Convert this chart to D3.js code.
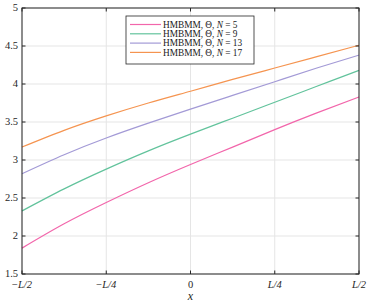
<!DOCTYPE html>
<html><head><meta charset="utf-8">
<script src="https://cdn.jsdelivr.net/npm/d3@7"></script>
<style>
body{margin:0;background:#fff;}
svg{display:block;font-family:"Liberation Serif","DejaVu Serif",serif;}
</style></head>
<body><svg id="c" width="374" height="304"></svg>
<script>
const xValues = [-0.5,-0.375,-0.25,-0.125,0,0.125,0.25,0.375,0.5];
const xTickValues = [-0.5,-0.25,0,0.25,0.5];
const xTickLabels = [["−",true,"L","/2"],["−",true,"L","/4"],["0"],["",true,"L","/4"],["",true,"L","/2"]];
const yTickValues = [1.5,2,2.5,3,3.5,4,4.5,5];
const seriesN = [5,9,13,17];
const n5  = [1.84,2.16,2.44,2.70,2.94,3.17,3.40,3.62,3.83];
const n9  = [2.33,2.62,2.88,3.12,3.34,3.55,3.76,3.97,4.18];
const n13 = [2.82,3.07,3.29,3.485,3.67,3.85,4.03,4.21,4.38];
const n17 = [3.17,3.39,3.58,3.75,3.905,4.06,4.21,4.36,4.51];
const seriesValues = [n5,n9,n13,n17];
const colors = ["#f266ab","#62c39c","#a39ad6","#f59450"];

const svg = d3.select("#c");
const L=22,R=359,T=8,B=274;
const x = d3.scaleLinear().domain([-0.5,0.5]).range([L,R]);
const y = d3.scaleLinear().domain([1.5,5]).range([B,T]);

// grid
const g = svg.append("g");
g.selectAll(".gx").data(xTickValues).enter().append("line")
 .attr("x1",d=>x(d)).attr("x2",d=>x(d)).attr("y1",T).attr("y2",B)
 .attr("stroke","#e5e5e5").attr("stroke-width",1);
g.selectAll(".gy").data(yTickValues).enter().append("line")
 .attr("x1",L).attr("x2",R).attr("y1",d=>y(d)).attr("y2",d=>y(d))
 .attr("stroke","#e5e5e5").attr("stroke-width",1);

// lines
const line = d3.line().x((d,i)=>x(xValues[i])).y(d=>y(d)).curve(d3.curveNatural);
seriesValues.forEach((s,k)=>{
  svg.append("path").attr("d",line(s)).attr("fill","none")
   .attr("stroke",colors[k]).attr("stroke-width",1.2);
});

// box and ticks
const axc="#262626";
svg.append("rect").attr("x",L).attr("y",T).attr("width",R-L).attr("height",B-T)
 .attr("fill","none").attr("stroke",axc).attr("stroke-width",1);
const tl=3.5;
xTickValues.forEach(v=>{
  svg.append("line").attr("x1",x(v)).attr("x2",x(v)).attr("y1",B).attr("y2",B-tl).attr("stroke",axc);
  svg.append("line").attr("x1",x(v)).attr("x2",x(v)).attr("y1",T).attr("y2",T+tl).attr("stroke",axc);
});
yTickValues.forEach(v=>{
  svg.append("line").attr("x1",L).attr("x2",L+tl).attr("y1",y(v)).attr("y2",y(v)).attr("stroke",axc);
  svg.append("line").attr("x1",R).attr("x2",R-tl).attr("y1",y(v)).attr("y2",y(v)).attr("stroke",axc);
});

// y tick labels
svg.selectAll(".yl").data(yTickValues).enter().append("text")
 .attr("x",L-4).attr("y",d=>y(d)).attr("dy","0.3em").attr("text-anchor","end")
 .attr("font-size",10.5).attr("fill","#262626").text(d=>d3.format("")(d));

// x tick labels
xTickValues.forEach((v,i)=>{
  const t = svg.append("text").attr("x",x(v)).attr("y",B+14).attr("text-anchor","middle")
    .attr("font-size",10.5).attr("fill","#262626");
  const parts = xTickLabels[i];
  if(parts.length===1){ t.text(parts[0]); }
  else {
    if(parts[0]) t.append("tspan").text(parts[0]);
    t.append("tspan").attr("font-style","italic").text(parts[2]);
    t.append("tspan").attr("font-style","italic").text(parts[3]);
  }
});
svg.append("text").attr("x",(L+R)/2).attr("y",B+26).attr("text-anchor","middle")
 .attr("font-size",12).attr("font-style","italic").attr("fill","#262626").text("x");

// legend
const lx=126, ly=16, lw=128, lh=48;
svg.append("rect").attr("x",lx).attr("y",ly).attr("width",lw).attr("height",lh)
 .attr("fill","#fff").attr("stroke","#262626").attr("stroke-width",0.8);
seriesN.forEach((nv,k)=>{
  const yy = ly+8.5+k*9.3;
  svg.append("line").attr("x1",lx+4).attr("x2",lx+35).attr("y1",yy).attr("y2",yy)
   .attr("stroke",colors[k]).attr("stroke-width",1.2);
  const t = svg.append("text").attr("x",lx+37).attr("y",yy).attr("dy","0.35em")
   .attr("font-size",9.3).attr("fill","#1a1a1a");
  t.append("tspan").text("HMBMM, Θ, ");
  t.append("tspan").attr("font-style","italic").text("N");
  t.append("tspan").text(" = "+nv);
});
</script></body></html>
